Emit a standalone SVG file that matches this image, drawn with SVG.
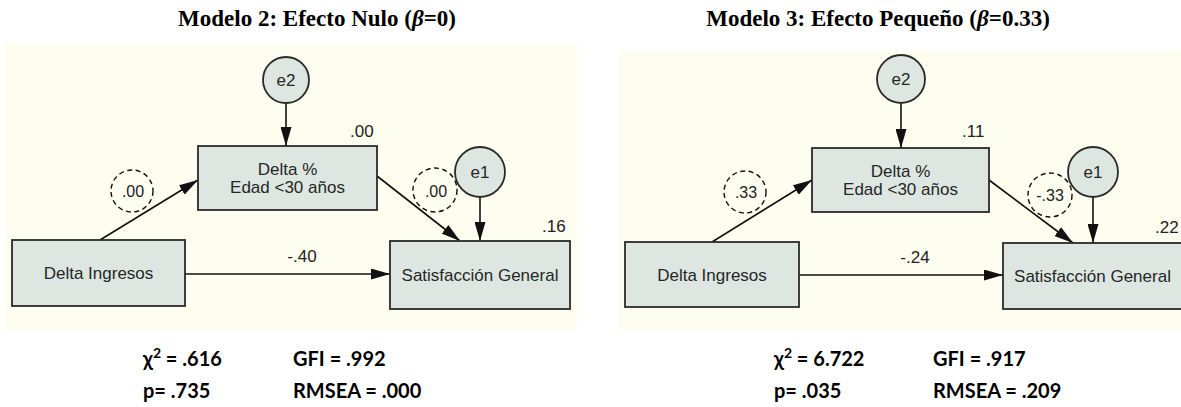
<svg xmlns="http://www.w3.org/2000/svg" width="1181" height="407" viewBox="0 0 1181 407">
<style>
.title{font-family:"Liberation Serif",serif;font-weight:bold;font-size:23px;fill:#000}
.bg{fill:#fdfdf0}
.box{fill:#dde6e1;stroke:#2a2a2a;stroke-width:1.8}
.circ{fill:#dde6e1;stroke:#2a2a2a;stroke-width:1.8}
.dash{fill:none;stroke:#111;stroke-width:1.4;stroke-dasharray:5,3.5}
.lbl{font-family:"Liberation Sans",Arial,sans-serif;font-size:17px;fill:#262626;text-anchor:middle}
.num{font-family:"Liberation Sans",Arial,sans-serif;font-size:17px;fill:#222}
.dnum{font-family:"Liberation Sans",Arial,sans-serif;font-size:16px;fill:#222;text-anchor:middle}
.stat{font-family:Lato,"Open Sans",sans-serif;font-weight:bold;font-size:20px;fill:#000}
.edge{stroke:#111;stroke-width:1.6;fill:none;marker-end:url(#ah)}
</style>
<defs>
<marker id="ah" viewBox="0 0 19 11" refX="19" refY="5.5" markerWidth="19" markerHeight="11" markerUnits="userSpaceOnUse" orient="auto">
<path d="M0,0 L19,5.5 L0,11 Z" fill="#111"/>
</marker>
</defs>
<rect width="1181" height="407" fill="#fff"/>
<text class="title" x="317" y="26" text-anchor="middle">Modelo 2: Efecto Nulo (<tspan font-style="italic">β</tspan>=0)</text>
<text class="title" x="878" y="26" text-anchor="middle">Modelo 3: Efecto Pequeño (<tspan font-style="italic">β</tspan>=0.33)</text>
<rect class="bg" x="5" y="43" width="572" height="287"/>
<rect class="bg" x="618" y="50" width="563" height="280"/>
<g id="connectors">
<line class="edge" x1="286" y1="103" x2="286" y2="146"/>
<line class="edge" x1="480" y1="197" x2="480" y2="241"/>
<line class="edge" x1="100" y1="240" x2="198" y2="180"/>
<line class="edge" x1="377" y1="176" x2="460" y2="241"/>
<line class="edge" x1="185" y1="274" x2="390" y2="274"/>
<line class="edge" x1="901" y1="103" x2="901" y2="148"/>
<line class="edge" x1="1093" y1="197" x2="1093" y2="243"/>
<line class="edge" x1="712" y1="242" x2="812" y2="180"/>
<line class="edge" x1="989" y1="180" x2="1073" y2="243"/>
<line class="edge" x1="799" y1="275" x2="1003" y2="275"/>
</g>
<g id="m2-e2"><circle class="circ" cx="286" cy="80" r="23"/><text class="lbl" x="286" y="86">e2</text></g>
<g id="m2-delta"><rect class="box" x="198" y="146" width="179" height="64"/><text class="lbl" x="287.5" y="175">Delta %</text><text class="lbl" x="287.5" y="193">Edad &lt;30 años</text></g>
<g id="m2-e1"><circle class="circ" cx="480" cy="172" r="25"/><text class="lbl" x="480" y="178">e1</text></g>
<g id="m2-sat"><rect class="box" x="390" y="241" width="180" height="68"/><text class="lbl" x="480" y="281">Satisfacción General</text></g>
<g id="m2-ing"><rect class="box" x="12" y="240" width="173" height="66"/><text class="lbl" x="98.5" y="279">Delta Ingresos</text></g>
<g id="m2-labels">
<text class="num" x="350" y="137">.00</text>
<text class="num" x="542" y="232">.16</text>
<text class="num" x="302" y="262" text-anchor="middle">-.40</text>
<circle class="dash" cx="132" cy="191" r="21"/><text class="dnum" x="133" y="197">.00</text>
<circle class="dash" cx="435" cy="190" r="22"/><text class="dnum" x="436" y="197">.00</text>
</g>
<g id="m3-e2"><circle class="circ" cx="901" cy="79" r="24"/><text class="lbl" x="901" y="85">e2</text></g>
<g id="m3-delta"><rect class="box" x="812" y="148" width="177" height="64"/><text class="lbl" x="900.5" y="177">Delta %</text><text class="lbl" x="900.5" y="195">Edad &lt;30 años</text></g>
<g id="m3-e1"><circle class="circ" cx="1093" cy="172" r="25"/><text class="lbl" x="1093" y="178">e1</text></g>
<g id="m3-sat"><rect class="box" x="1003" y="243" width="190" height="66"/><text class="lbl" x="1092.5" y="282">Satisfacción General</text></g>
<g id="m3-ing"><rect class="box" x="625" y="242" width="174" height="65"/><text class="lbl" x="712" y="281">Delta Ingresos</text></g>
<g id="m3-labels">
<text class="num" x="962" y="137">.11</text>
<text class="num" x="1155" y="233">.22</text>
<text class="num" x="915" y="263" text-anchor="middle">-.24</text>
<circle class="dash" cx="745" cy="192" r="21"/><text class="dnum" x="746" y="198">.33</text>
<circle class="dash" cx="1050" cy="195" r="22"/><text class="dnum" x="1050" y="201">-.33</text>
</g>
<g id="m2-stats" xml:space="preserve">
<text class="stat" x="143" y="366">χ<tspan dy="-8" font-size="14">2</tspan><tspan dy="8"> = .616</tspan></text>
<text class="stat" x="293" y="366">GFI = .992</text>
<text class="stat" x="143" y="398">p= .735</text>
<text class="stat" x="293" y="398">RMSEA  = .000</text>
</g>
<g id="m3-stats" xml:space="preserve">
<text class="stat" x="774" y="366">χ<tspan dy="-8" font-size="14">2</tspan><tspan dy="8"> = 6.722</tspan></text>
<text class="stat" x="933" y="366">GFI = .917</text>
<text class="stat" x="774" y="398">p= .035</text>
<text class="stat" x="933" y="398">RMSEA  = .209</text>
</g>
</svg>
